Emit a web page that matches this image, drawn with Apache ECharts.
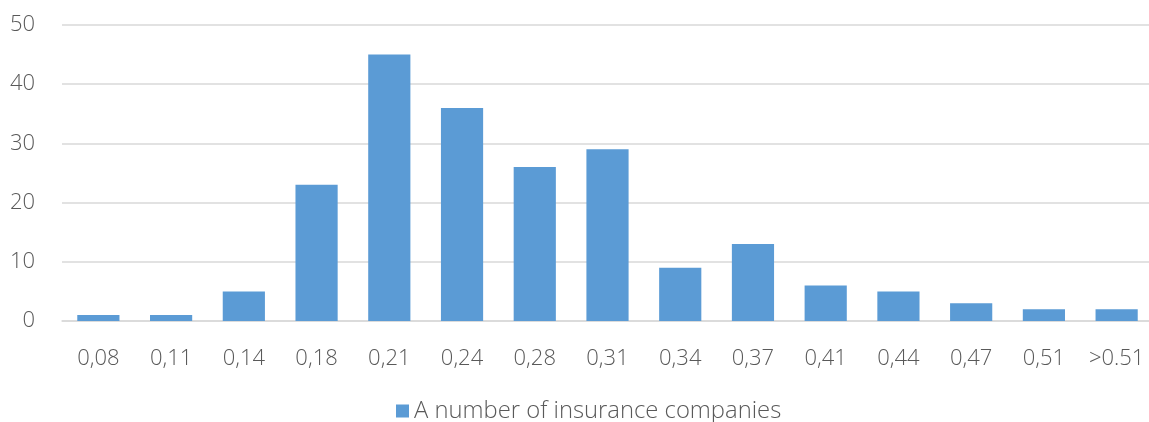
<!DOCTYPE html>
<html>
<head>
<meta charset="utf-8">
<script src="https://cdn.jsdelivr.net/npm/echarts@6/dist/echarts.min.js"></script>
<style>
  html, body { margin: 0; padding: 0; background: #fff; }
  #echart { width: 1149px; height: 422px; }
</style>
</head>
<body>
<div id="echart"></div>
<script>
// chart data
var categories = ['0,08', '0,11', '0,14', '0,18', '0,21', '0,24', '0,28', '0,31', '0,34', '0,37', '0,41', '0,44', '0,47', '0,51', '>0.51'];
var companies = [1, 1, 5, 23, 45, 36, 26, 29, 9, 13, 6, 5, 3, 2, 2];
var seriesName = 'A number of insurance companies';

var textColor = '#595959';
var fontName = '"Open Sans", "Noto Sans", sans-serif';

var eChart = echarts.init(document.getElementById('echart'));

var eChartOption = {
	animation: false,
	textStyle: { fontFamily: fontName },
	grid: {
		left: 62,
		right: -4,
		top: 25,
		bottom: 101,
		outerBoundsMode: 'none'
	},
	legend: {
		top: 399,
		left: 396,
		padding: 0,
		itemWidth: 13,
		itemHeight: 13,
		itemGap: 8,
		icon: 'rect',
		textStyle: { color: textColor, fontSize: 23.8, fontWeight: 300, fontFamily: fontName },
		data: [seriesName]
	},
	xAxis: {
		type: 'category',
		data: categories,
		axisTick: { show: false },
		axisLine: { lineStyle: { color: '#d9d9d9', width: 1.5 } },
		axisLabel: { color: textColor, fontSize: 22, fontWeight: 300, margin: 27, interval: 0 }
	},
	yAxis: {
		type: 'value',
		min: 0,
		max: 50,
		interval: 10,
		axisLine: { show: false },
		axisTick: { show: false },
		axisLabel: { color: textColor, fontSize: 22, fontWeight: 300, margin: 27 },
		splitLine: { lineStyle: { color: '#d9d9d9', width: 1.5 } }
	},
	series: [
		{
			name: seriesName,
			type: 'bar',
			data: companies,
			barCategoryGap: '42%',
			itemStyle: { color: '#5B9BD5' }
		}
	]
};

eChart.setOption(eChartOption);
</script>
</body>
</html>
